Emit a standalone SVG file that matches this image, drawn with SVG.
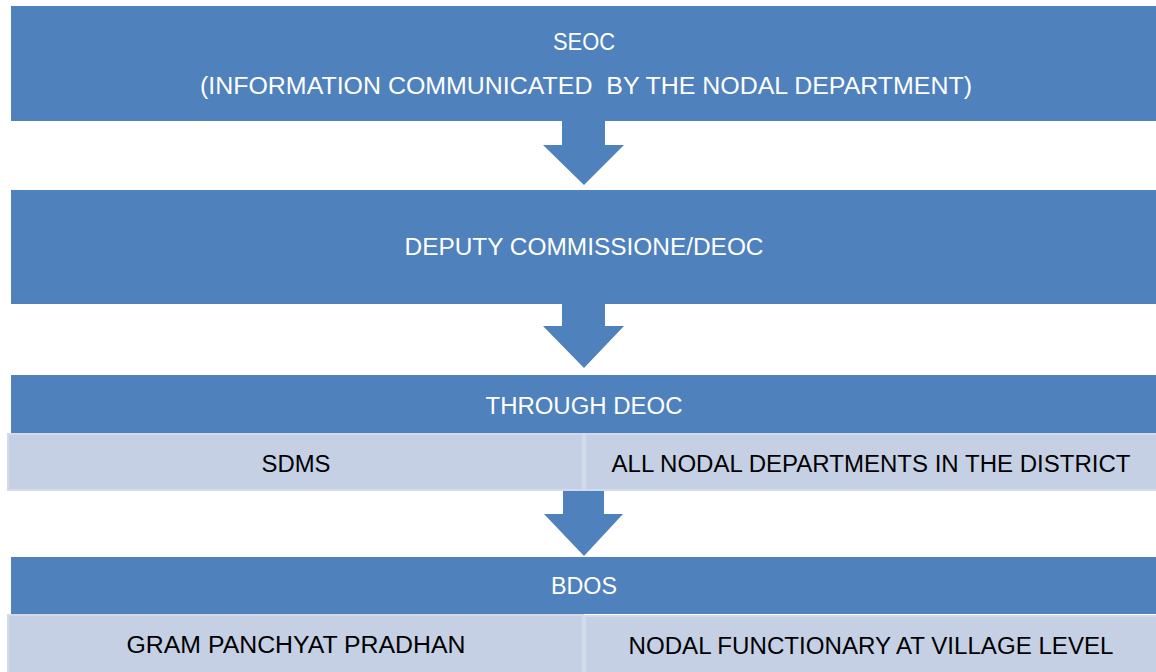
<svg xmlns="http://www.w3.org/2000/svg" width="1156" height="672" viewBox="0 0 1156 672">
<style>
.main{fill:#4f81bd;}
.sub{fill:#c5d0e5;stroke:#d3dbeb;stroke-width:2;}
.arrow{fill:#4f81bd;}
.wt{font-family:"Liberation Sans",Arial,sans-serif;font-size:23px;fill:#ffffff;text-anchor:middle;white-space:pre;}
.bt{font-family:"Liberation Sans",Arial,sans-serif;font-size:23px;fill:#000000;text-anchor:middle;}
</style>
<rect width="1156" height="672" fill="#ffffff"/>
<g id="connectors">
<polygon class="arrow" points="562,121 605,121 605,145 624,145 584,185 543,145 562,145"/>
<polygon class="arrow" points="562,304 605,304 605,326 624,326 584,368 543,326 562,326"/>
<polygon class="arrow" points="563,491 604,491 604,514 623,514 584,556 544,514 563,514"/>
</g>
<g id="seoc">
<rect class="main" x="11" y="6" width="1150" height="115"/>
<text class="wt" x="584" y="50" textLength="62" lengthAdjust="spacingAndGlyphs">SEOC</text>
<text class="wt" x="586" y="94" textLength="772" lengthAdjust="spacingAndGlyphs" xml:space="preserve">(INFORMATION COMMUNICATED  BY THE NODAL DEPARTMENT)</text>
</g>
<g id="deoc">
<rect class="main" x="11" y="190" width="1150" height="114"/>
<text class="wt" x="584" y="255" textLength="359" lengthAdjust="spacingAndGlyphs">DEPUTY COMMISSIONE/DEOC</text>
</g>
<g id="through-deoc">
<rect class="main" x="11" y="375" width="1150" height="58"/>
<text class="wt" x="584" y="414" textLength="197" lengthAdjust="spacingAndGlyphs">THROUGH DEOC</text>
</g>
<g id="sdms">
<rect class="sub" x="8" y="434" width="575" height="56"/>
<text class="bt" x="296" y="472" textLength="69" lengthAdjust="spacingAndGlyphs">SDMS</text>
</g>
<g id="nodal-departments">
<rect class="sub" x="585" y="434" width="575" height="56"/>
<text class="bt" x="871" y="472" textLength="519" lengthAdjust="spacingAndGlyphs">ALL NODAL DEPARTMENTS IN THE DISTRICT</text>
</g>
<g id="bdos">
<rect class="main" x="11" y="557" width="1150" height="57"/>
<text class="wt" x="584" y="594" textLength="66" lengthAdjust="spacingAndGlyphs">BDOS</text>
</g>
<g id="gram-panchyat">
<rect class="sub" x="8" y="615" width="575" height="60"/>
<text class="bt" x="296" y="653" textLength="339" lengthAdjust="spacingAndGlyphs">GRAM PANCHYAT PRADHAN</text>
</g>
<g id="nodal-functionary">
<rect class="sub" x="585" y="616" width="575" height="60"/>
<text class="bt" x="871" y="654" textLength="485" lengthAdjust="spacingAndGlyphs">NODAL FUNCTIONARY AT VILLAGE LEVEL</text>
</g>
</svg>
